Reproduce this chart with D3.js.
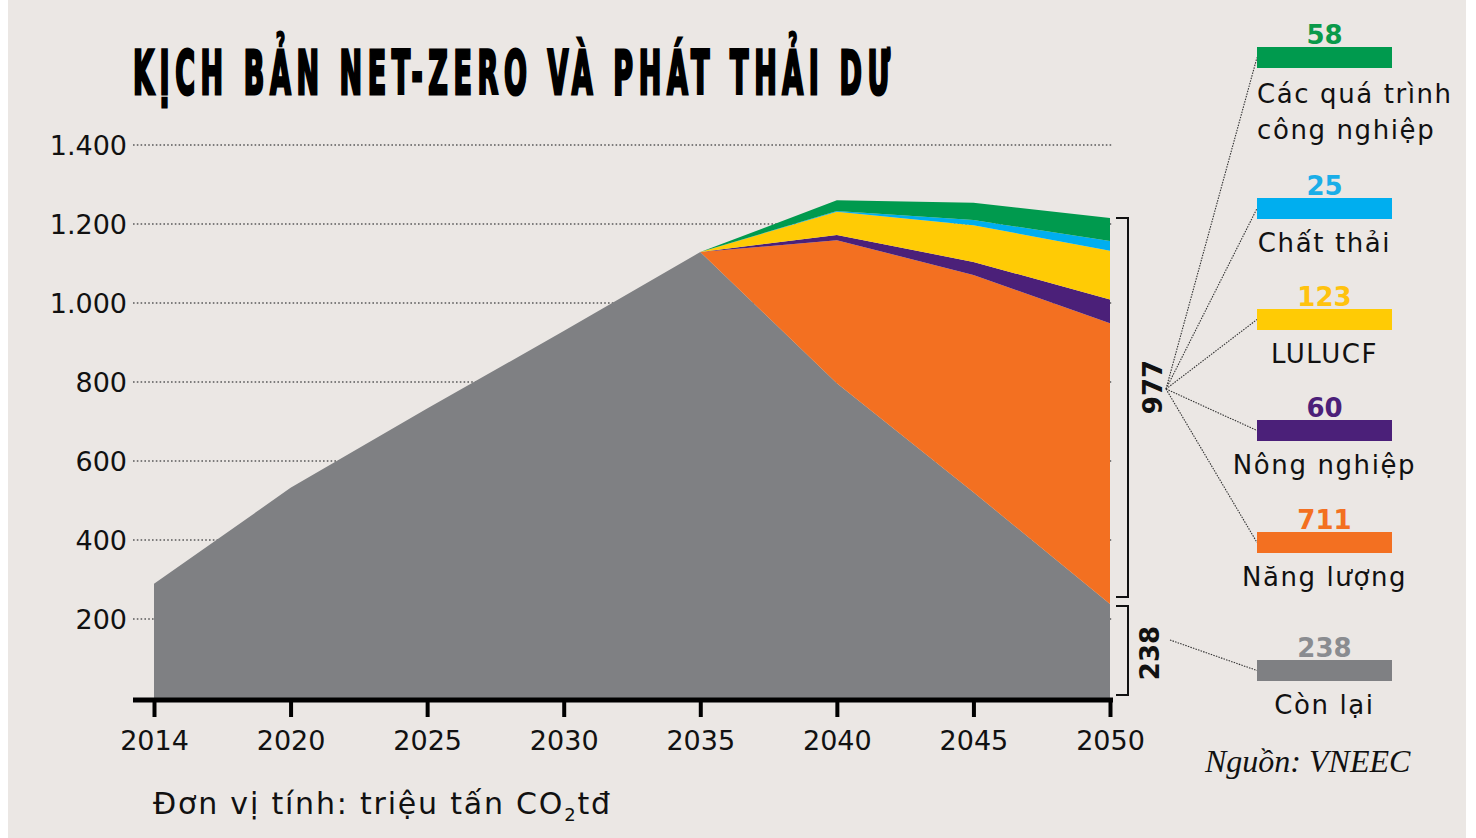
<!DOCTYPE html>
<html><head><meta charset="utf-8">
<script src="https://cdn.jsdelivr.net/npm/d3@7"></script>
<style>
html,body{margin:0;padding:0;background:#fff;}
svg{display:block;}
</style></head>
<body>
<svg id="chart" width="1476" height="838"></svg>
<script>
// ---- DATA ----
const years = ["2014","2020","2025","2030","2035","2040","2045","2050"];
const conLai     = [289, 532, 733, 929, 1129, 797, 521, 238];
const nangLuong  = [0, 0, 0, 0, 0, 362, 550, 711];
const nongNghiep = [0, 0, 0, 0, 0, 13, 33, 60];
const lulucf     = [0, 0, 0, 0, 0, 59, 93, 123];
const chatThai   = [0, 0, 0, 0, 0, 2, 13, 25];
const congNghiep = [0, 0, 0, 0, 0, 27, 44, 58];
const yTicks = [200, 400, 600, 800, 1000, 1200, 1400];
const seriesKeys = ["conLai","nangLuong","nongNghiep","lulucf","chatThai","congNghiep"];
const seriesLabels = ["Còn lại","Năng lượng","Nông nghiệp","LULUCF","Chất thải","Các quá trình công nghiệp"];
const legendValues = [238, 711, 60, 123, 25, 58];
const reduced = 977;
const remaining = 238;
const colors = ["#7f8083","#f37021","#4b2079","#ffcb05","#00aeef","#009a4e"];
const valueColors = ["#8a8c90","#f37021","#4b2079","#ffc20e","#1aaee8","#0a9a4a"];

const rows = years.map((yr,i)=>({year:yr, conLai:conLai[i], nangLuong:nangLuong[i], nongNghiep:nongNghiep[i], lulucf:lulucf[i], chatThai:chatThai[i], congNghiep:congNghiep[i]}));

const FONT = "'DejaVu Sans', sans-serif";
const svg = d3.select("#chart");

// background
svg.append("rect").attr("x",0).attr("y",0).attr("width",1476).attr("height",838).attr("fill","#fff");
svg.append("rect").attr("x",8).attr("y",0).attr("width",1458).attr("height",838).attr("fill","#ebe7e4");

const x = d3.scalePoint().domain(years).range([154,1110]);
const y = d3.scaleLinear().domain([0,1400]).range([698,145]);

// gridlines
svg.append("g").selectAll("line").data(yTicks).join("line")
  .attr("x1",133).attr("x2",1113).attr("y1",d=>y(d)).attr("y2",d=>y(d))
  .attr("stroke","#5a5a5a").attr("stroke-width",1.6).attr("stroke-dasharray","1.6,2.2");

// y labels
const loc = d3.formatLocale({thousands:".", grouping:[3], decimal:",", currency:["",""]});
const yAxis = d3.axisLeft(y).tickValues(yTicks).tickSize(0).tickPadding(6).tickFormat(loc.format(","));
const gy = svg.append("g").attr("transform","translate(133,0)").call(yAxis);
gy.select(".domain").remove();
gy.selectAll("text").attr("font-family",FONT).attr("font-size",27).attr("fill","#111").attr("dy","0.36em");

// stacked areas
const stack = d3.stack().keys(seriesKeys);
const stacked = stack(rows);
const area = d3.area().x(d=>x(d.data.year)).y0(d=>y(d[0])).y1(d=>y(d[1]));
svg.append("g").selectAll("path").data(stacked).join("path")
  .attr("d",area).attr("fill",(d,i)=>colors[i]);

// x axis
const xAxis = d3.axisBottom(x).tickSize(17).tickPadding(14);
const gx = svg.append("g").attr("transform","translate(0,700)").call(xAxis);
gx.select(".domain").remove();
gx.selectAll(".tick line").attr("stroke","#000").attr("stroke-width",4);
gx.selectAll("text").attr("font-family",FONT).attr("font-size",27).attr("fill","#111");
svg.append("line").attr("x1",133).attr("x2",1113).attr("y1",700).attr("y2",700).attr("stroke","#000").attr("stroke-width",5);

// brackets
const lastIdx = years.length-1;
const topVal = d3.sum(seriesKeys, k=>rows[lastIdx][k]);
function bracket(y1,y2){
  return `M1116,${y1}H1128V${y2}H1116`;
}
svg.append("path").attr("d",bracket(y(topVal),y(remaining)-7)).attr("fill","none").attr("stroke","#111").attr("stroke-width",2);
svg.append("path").attr("d",bracket(y(remaining)+2,y(0)-3)).attr("fill","none").attr("stroke","#111").attr("stroke-width",2);
svg.append("text").attr("transform",`translate(1162,${(y(topVal)+y(remaining))/2-24}) rotate(-90)`)
  .attr("text-anchor","middle").attr("font-family",FONT).attr("font-weight",700).attr("font-size",26).attr("fill","#111").text(reduced);
svg.append("text").attr("transform",`translate(1159,${(y(remaining)+y(0))/2+2}) rotate(-90)`)
  .attr("text-anchor","middle").attr("font-family",FONT).attr("font-weight",700).attr("font-size",26).attr("fill","#111").text(remaining);

// legend
const barTops = {congNghiep:47, chatThai:198, lulucf:309, nongNghiep:420, nangLuong:532, conLai:660};
const barX = 1257, barW = 135, barH = 21, cx = barX + barW/2;
seriesKeys.forEach((k,i)=>{
  const t = barTops[k];
  const fromX = i===0 ? 1170 : 1166, fromY = i===0 ? 640 : 389;
  svg.append("line").attr("x1",fromX).attr("y1",fromY).attr("x2",barX).attr("y2",t+barH/2)
    .attr("stroke","#333").attr("stroke-width",1.1).attr("stroke-dasharray","1.5,1.2");
  svg.append("rect").attr("x",barX).attr("y",t).attr("width",barW).attr("height",barH).attr("fill",colors[i]);
  svg.append("text").attr("x",cx).attr("y",t-3).attr("text-anchor","middle")
    .attr("font-family",FONT).attr("font-weight",700).attr("font-size",26).attr("fill",valueColors[i]).text(legendValues[i]);
  if(k==="congNghiep"){
    svg.append("text").attr("x",barX).attr("y",t+barH+35).attr("font-family",FONT).attr("font-size",26).attr("letter-spacing",1.6).attr("fill","#111").text("Các quá trình");
    svg.append("text").attr("x",barX).attr("y",t+barH+71).attr("font-family",FONT).attr("font-size",26).attr("letter-spacing",1.6).attr("fill","#111").text("công nghiệp");
  } else {
    svg.append("text").attr("x",cx).attr("y",t+barH+33).attr("text-anchor","middle")
      .attr("font-family",FONT).attr("font-size",26).attr("letter-spacing",1.6).attr("fill","#111").text(seriesLabels[i]);
  }
});

// title: condensed glyphs with wide tracking
const titleStr = "KỊCH BẢN NET-ZERO VÀ PHÁT THẢI DƯ";
const sx = 0.5;
const title = svg.append("text").attr("transform",`translate(133,94) scale(${sx},1)`).attr("x",0).attr("y",0)
  .attr("font-family","'DejaVu Sans Condensed','DejaVu Sans',sans-serif").attr("font-weight",700)
  .attr("font-size",60).attr("fill","#000").attr("stroke","#000").attr("stroke-width",3)
  .text(titleStr);
const L = title.node().getComputedTextLength();
const need = 757/sx;
const ls = Math.max(0,(need - L)/(titleStr.length-1));
title.attr("letter-spacing",ls);

// unit
const ut = svg.append("text").attr("x",153).attr("y",814).attr("font-family",FONT).attr("font-size",30).attr("letter-spacing",1.8).attr("fill","#111");
ut.append("tspan").text("Đơn vị tính: triệu tấn CO");
ut.append("tspan").attr("font-size",18).attr("dy",7).text("2");
ut.append("tspan").attr("dy",-7).text("tđ");

// source
svg.append("text").attr("x",1205).attr("y",772).attr("font-family","'Liberation Serif','DejaVu Serif',serif")
  .attr("font-style","italic").attr("font-size",32).attr("fill","#111").text("Nguồn: VNEEC");
</script>
</body></html>
